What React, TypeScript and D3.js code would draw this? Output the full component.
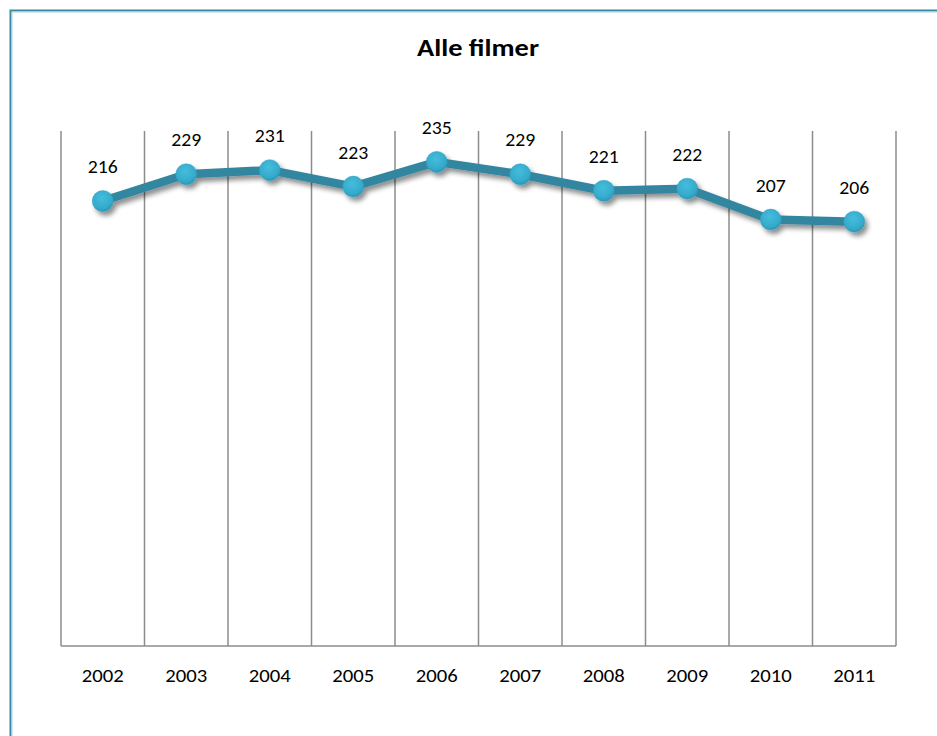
import React from "react";
import * as d3 from "d3";

const years = ["2002", "2003", "2004", "2005", "2006", "2007", "2008", "2009", "2010", "2011"];
const values = [216, 229, 231, 223, 235, 229, 221, 222, 207, 206];
const title = "Alle filmer";

export default function App() {
  const W = 937, H = 736;
  const left = 61, right = 896, top = 131, bottom = 646;
  const x = d3.scaleBand<string>().domain(years).range([left, right]).padding(0);
  const y = d3.scaleLinear().domain([0, 250]).range([bottom, top]);
  const cx = (d: string) => (x(d) as number) + x.bandwidth() / 2;
  const line = d3.line<number>().x((_, i) => cx(years[i])).y((v) => y(v));
  const font = "Carlito, Calibri, Lato, 'Open Sans', sans-serif";
  const gridXs = years.map((d) => x(d) as number).concat([right]);

  return (
    <svg width={W} height={H} style={{ position: "absolute", left: 0, top: 0 }}>
      <defs>
        <filter id="shadow" x="-50%" y="-50%" width="200%" height="200%">
          <feGaussianBlur in="SourceAlpha" stdDeviation="2.5" />
          <feOffset dx="3" dy="4" result="b" />
          <feComponentTransfer>
            <feFuncA type="linear" slope="0.45" />
          </feComponentTransfer>
          <feMerge>
            <feMergeNode />
            <feMergeNode in="SourceGraphic" />
          </feMerge>
        </filter>
        <radialGradient id="dot" cx="45%" cy="35%" r="70%">
          <stop offset="0%" stopColor="#45bddc" />
          <stop offset="70%" stopColor="#35aacb" />
          <stop offset="100%" stopColor="#2a8eab" />
        </radialGradient>
      </defs>
      <rect x={0} y={0} width={W} height={H} fill="#ffffff" />
      <rect x={10.5} y={10.5} width={W + 20} height={H + 20} fill="none" stroke="#3b88a0" strokeWidth={2} />
      <rect x={12} y={12} width={W + 20} height={H + 20} fill="none" stroke="#a9d3df" strokeWidth={1} />
      <text x={478} y={56} textAnchor="middle" fontFamily={font} fontWeight="bold" fontSize={25}
        textLength={122} lengthAdjust="spacingAndGlyphs" fill="#000">
        {title}
      </text>
      {gridXs.map((gx, i) => (
        <line key={i} x1={gx} x2={gx} y1={top} y2={bottom} stroke="#8c8c8c" strokeWidth={1.5} />
      ))}
      <line x1={left} x2={right} y1={bottom} y2={bottom} stroke="#8c8c8c" strokeWidth={1.5} />
      {years.map((d) => (
        <text key={d} x={cx(d)} y={682} textAnchor="middle" fontFamily={font} fontSize={19}
          textLength={42} lengthAdjust="spacingAndGlyphs" fill="#000">
          {d}
        </text>
      ))}
      <g filter="url(#shadow)">
        <path d={line(values) || ""} fill="none" stroke="#31869f" strokeWidth={8.5} strokeLinejoin="round" />
        {values.map((v, i) => (
          <circle key={i} cx={cx(years[i])} cy={y(v)} r={10.5} fill="url(#dot)" stroke="#2f9fc0" strokeWidth={0.5} />
        ))}
      </g>
      {values.map((v, i) => (
        <text key={i} x={cx(years[i])} y={y(v) - 28} textAnchor="middle" fontFamily={font} fontSize={19}
          textLength={30} lengthAdjust="spacingAndGlyphs" fill="#000">
          {v}
        </text>
      ))}
    </svg>
  );
}
